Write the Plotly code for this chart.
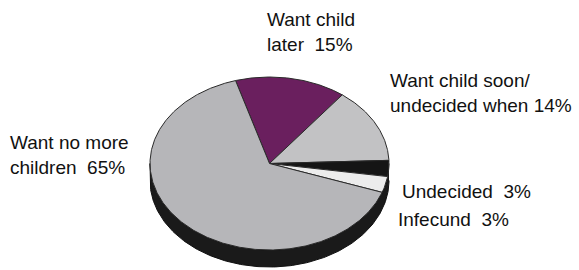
import numpy as np
import plotly.graph_objects as go

# ---- data ----
categories = ["Want child later", "Want child soon/undecided when", "Undecided", "Infecund", "Want no more children"]
values = [15, 14, 3, 3, 65]
label_text = ["Want child<br>later\u00a0 15%",
              "Want child soon/<br>undecided when 14%",
              "Undecided\u00a0 3%",
              "Infecund\u00a0 3%",
              "Want no more<br>children\u00a0 65%"]
slice_colors = ["#6a1f5e", "#c2c2c4", "#151515", "#ececec", "#b6b6b9"]

# ---- geometry of the tilted pie (layout constants) ----
W, H = 579, 270
cx, cy = 269.5, 163.5
rx, ry = 119.5, 86.5
depth = 17
start_deg = -16.5  # clockwise from 12 o'clock

def pt(theta_deg, dy=0.0):
    t = np.radians(theta_deg)
    return cx + rx * np.sin(t), cy - ry * np.cos(t) + dy

fig = go.Figure()

# side (3D rim): band between lower half of top ellipse and its shifted copy
th_fwd = np.linspace(90, 270, 181)
x1, y1 = pt(th_fwd)
x2, y2 = pt(th_fwd[::-1], depth)
fig.add_trace(go.Scatter(x=np.concatenate([x1, x2]), y=np.concatenate([y1, y2]),
                         fill="toself", fillcolor="#1a1a1a", mode="lines",
                         line=dict(color="#111111", width=1), hoverinfo="skip", showlegend=False))

# top face slices
total = float(sum(values))
a0 = start_deg
for name, v, col in zip(categories, values, slice_colors):
    a1 = a0 + 360.0 * v / total
    th = np.linspace(a0, a1, max(int(abs(a1 - a0)) * 2, 4))
    ex, ey = pt(th)
    xs = np.concatenate([[cx], ex, [cx]])
    ys = np.concatenate([[cy], ey, [cy]])
    fig.add_trace(go.Scatter(x=xs, y=ys, fill="toself", fillcolor=col, mode="lines",
                             line=dict(color="#2a2a2a", width=1), name=name,
                             hoverinfo="name", showlegend=False))
    a0 = a1

# labels
label_pos = [(265, 32, "left"), (388, 93, "left"), (400, 191, "left"), (396, 219, "left"), (8, 155, "left")]
for txt, (lx, ly, al) in zip(label_text, label_pos):
    fig.add_annotation(x=lx, y=ly, text=txt, showarrow=False, xanchor="left", yanchor="middle",
                       align=al, font=dict(family="Liberation Sans, Arial, sans-serif", size=19, color="#111111"))

fig.update_layout(width=W, height=H, margin=dict(l=0, r=0, t=0, b=0),
                  paper_bgcolor="white", plot_bgcolor="white",
                  xaxis=dict(range=[0, W], visible=False, fixedrange=True),
                  yaxis=dict(range=[H, 0], visible=False, fixedrange=True))
fig.write_html("out.html", config={"displayModeBar": False},
               post_script="document.body.style.margin='0px';document.body.style.overflow='hidden';")
